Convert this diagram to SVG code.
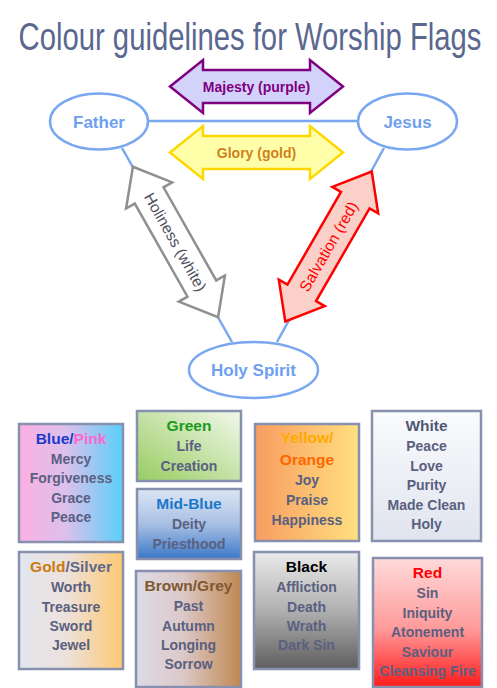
<svg xmlns="http://www.w3.org/2000/svg" width="497" height="688" viewBox="0 0 497 688">
<defs>
<style>
.node{fill:#fff;stroke:#7aa8f0;stroke-width:2.5}
.nlabel{font-family:"Liberation Sans",Arial,sans-serif;font-weight:bold;font-size:17px;fill:#6fa0f0;text-anchor:middle}
.conn{stroke:#7aa8f0;stroke-width:2.5;fill:none}
.alabel{font-family:"Liberation Sans",Arial,sans-serif;font-weight:bold;font-size:14px;text-anchor:middle}
.dlabel{font-family:"Liberation Sans",Arial,sans-serif;font-size:15.5px;text-anchor:middle}
.box{stroke:#8890b0;stroke-width:2.5}
.bt{font-family:"Liberation Sans",Arial,sans-serif;font-weight:bold;font-size:15.5px;text-anchor:middle}
.bb{font-family:"Liberation Sans",Arial,sans-serif;font-weight:bold;font-size:14px;text-anchor:middle;fill:#5a6080}
</style>
<path id="arr" d="M -86.5,0 L -53.5,-26.5 L -53.5,-16.5 L 53.5,-16.5 L 53.5,-26.5 L 86.5,0 L 53.5,26.5 L 53.5,16.5 L -53.5,16.5 L -53.5,26.5 Z"/>
<linearGradient id="gBP" x1="0" y1="0" x2="1" y2="0"><stop offset="0" stop-color="#fcb0e2"/><stop offset="0.45" stop-color="#dcc0ec"/><stop offset="1" stop-color="#58d0f8"/></linearGradient>
<linearGradient id="gGreen" x1="0" y1="1" x2="1" y2="0"><stop offset="0" stop-color="#98cc60"/><stop offset="1" stop-color="#f2f8ec"/></linearGradient>
<linearGradient id="gMid" x1="0" y1="0" x2="0" y2="1"><stop offset="0" stop-color="#dce6f4"/><stop offset="0.5" stop-color="#a8c0e4"/><stop offset="1" stop-color="#3a78c8"/></linearGradient>
<linearGradient id="gYO" x1="0" y1="0" x2="1" y2="0"><stop offset="0" stop-color="#f89c60"/><stop offset="1" stop-color="#ffe080"/></linearGradient>
<linearGradient id="gWhite" x1="0" y1="0" x2="0" y2="1"><stop offset="0" stop-color="#fafbfd"/><stop offset="1" stop-color="#e0e4ee"/></linearGradient>
<linearGradient id="gGS" x1="0" y1="0" x2="1" y2="0"><stop offset="0" stop-color="#e2e6f0"/><stop offset="0.45" stop-color="#ece2dc"/><stop offset="1" stop-color="#ffc870"/></linearGradient>
<linearGradient id="gBG" x1="0" y1="0" x2="1" y2="0"><stop offset="0" stop-color="#dcdce6"/><stop offset="0.45" stop-color="#dcc8c8"/><stop offset="1" stop-color="#c08850"/></linearGradient>
<linearGradient id="gBlack" x1="0" y1="0" x2="0" y2="1"><stop offset="0" stop-color="#eaeaea"/><stop offset="0.5" stop-color="#b0b0b0"/><stop offset="1" stop-color="#5e5e5e"/></linearGradient>
<linearGradient id="gRed" x1="0" y1="0" x2="0" y2="1"><stop offset="0" stop-color="#ffdada"/><stop offset="0.55" stop-color="#ff9a9a"/><stop offset="1" stop-color="#ff1a1a"/></linearGradient>
</defs>
<rect width="497" height="688" fill="#fff"/>
<text transform="translate(250,50) scale(0.77,1)" x="0" y="0" font-family="'Liberation Sans',Arial,sans-serif" font-size="38" fill="#5a6890" text-anchor="middle">Colour guidelines for Worship Flags</text>

<g id="connectors">
<line class="conn" x1="148" y1="121" x2="358" y2="121"/>
<line class="conn" x1="122" y1="148" x2="232" y2="342"/>
<line class="conn" x1="384" y1="148" x2="277" y2="342"/>
<g id="majesty">
<use href="#arr" transform="translate(256.5,86.5)" fill="#d2d2fa" stroke="#800080" stroke-width="2.5"/>
<text class="alabel" x="256.5" y="91.5" fill="#800080">Majesty (purple)</text>
</g>
<g id="glory">
<use href="#arr" transform="translate(256.5,152.5)" fill="#ffffaa" stroke="#ffd700" stroke-width="2.5"/>
<text class="alabel" x="256.5" y="157.5" fill="#d08020">Glory (gold)</text>
</g>
<g id="holiness" transform="translate(175.5,242) rotate(60.5)">
<use href="#arr" fill="#fff" stroke="#909090" stroke-width="2.5"/>
<text class="dlabel" x="0" y="5.5" fill="#505060">Holiness (white)</text>
</g>
<g id="salvation" transform="translate(328.5,246.5) rotate(-60)">
<use href="#arr" fill="#fad0c8" stroke="#ff0000" stroke-width="2.5"/>
<text class="dlabel" x="0" y="5.5" fill="#ff0000">Salvation (red)</text>
</g>
</g>

<g id="father"><ellipse class="node" cx="99" cy="121.5" rx="49" ry="28"/><text class="nlabel" x="99" y="127.5">Father</text></g>
<g id="jesus"><ellipse class="node" cx="407.5" cy="121.5" rx="49.5" ry="28"/><text class="nlabel" x="407.5" y="127.5">Jesus</text></g>
<g id="holyspirit"><ellipse class="node" cx="253.5" cy="370" rx="64.5" ry="28"/><text class="nlabel" x="253.5" y="376" font-weight="normal" font-size="17.5">Holy Spirit</text></g>

<g id="bluepink">
<rect class="box" x="19" y="424" width="104" height="118" fill="url(#gBP)"/>
<text class="bt" x="71" y="444"><tspan fill="#1a3acc">Blue/</tspan><tspan fill="#ff66cc">Pink</tspan></text>
<text class="bb" x="71" y="464">Mercy</text>
<text class="bb" x="71" y="483">Forgiveness</text>
<text class="bb" x="71" y="502.5">Grace</text>
<text class="bb" x="71" y="522">Peace</text>
</g>
<g id="green">
<rect class="box" x="137" y="411" width="104" height="70" fill="url(#gGreen)"/>
<text class="bt" x="189" y="431" fill="#1a9a1a">Green</text>
<text class="bb" x="189" y="451">Life</text>
<text class="bb" x="189" y="470.5">Creation</text>
</g>
<g id="midblue">
<rect class="box" x="137" y="489" width="104" height="70" fill="url(#gMid)"/>
<text class="bt" x="189" y="509" fill="#1a78c8">Mid-Blue</text>
<text class="bb" x="189" y="529">Deity</text>
<text class="bb" x="189" y="548.5" fill="#404868">Priesthood</text>
</g>
<g id="yelloworange">
<rect class="box" x="255" y="424" width="104" height="117" fill="url(#gYO)"/>
<text class="bt" x="307" y="443" fill="#ffaa00">Yellow/</text>
<text class="bt" x="307" y="465" fill="#ff6600">Orange</text>
<text class="bb" x="307" y="485">Joy</text>
<text class="bb" x="307" y="505">Praise</text>
<text class="bb" x="307" y="524.5">Happiness</text>
</g>
<g id="white">
<rect class="box" x="372" y="411" width="109" height="130" fill="url(#gWhite)"/>
<text class="bt" x="426.5" y="431" fill="#505878">White</text>
<text class="bb" x="426.5" y="451">Peace</text>
<text class="bb" x="426.5" y="470.5">Love</text>
<text class="bb" x="426.5" y="490">Purity</text>
<text class="bb" x="426.5" y="509.5">Made Clean</text>
<text class="bb" x="426.5" y="529">Holy</text>
</g>
<g id="goldsilver">
<rect class="box" x="19" y="552" width="104" height="117" fill="url(#gGS)"/>
<text class="bt" x="71" y="572"><tspan fill="#cc7a10">Gold</tspan><tspan fill="#606888">/Silver</tspan></text>
<text class="bb" x="71" y="592">Worth</text>
<text class="bb" x="71" y="611.5">Treasure</text>
<text class="bb" x="71" y="631">Sword</text>
<text class="bb" x="71" y="650">Jewel</text>
</g>
<g id="browngrey">
<rect class="box" x="136" y="571" width="105" height="116" fill="url(#gBG)"/>
<text class="bt" x="188.5" y="591" fill="#805830">Brown/Grey</text>
<text class="bb" x="188.5" y="611">Past</text>
<text class="bb" x="188.5" y="630.5">Autumn</text>
<text class="bb" x="188.5" y="650">Longing</text>
<text class="bb" x="188.5" y="669">Sorrow</text>
</g>
<g id="black">
<rect class="box" x="254" y="552" width="105" height="117" fill="url(#gBlack)"/>
<text class="bt" x="306.5" y="572" fill="#000">Black</text>
<text class="bb" x="306.5" y="592">Affliction</text>
<text class="bb" x="306.5" y="611.5">Death</text>
<text class="bb" x="306.5" y="631" fill="#404060">Wrath</text>
<text class="bb" x="306.5" y="650">Dark Sin</text>
</g>
<g id="red">
<rect class="box" x="373" y="558" width="109" height="129" fill="url(#gRed)"/>
<text class="bt" x="427.5" y="578" fill="#ff0000">Red</text>
<text class="bb" x="427.5" y="598">Sin</text>
<text class="bb" x="427.5" y="617.5">Iniquity</text>
<text class="bb" x="427.5" y="637">Atonement</text>
<text class="bb" x="427.5" y="656.5">Saviour</text>
<text class="bb" x="427.5" y="676">Cleansing Fire</text>
</g>
</svg>
